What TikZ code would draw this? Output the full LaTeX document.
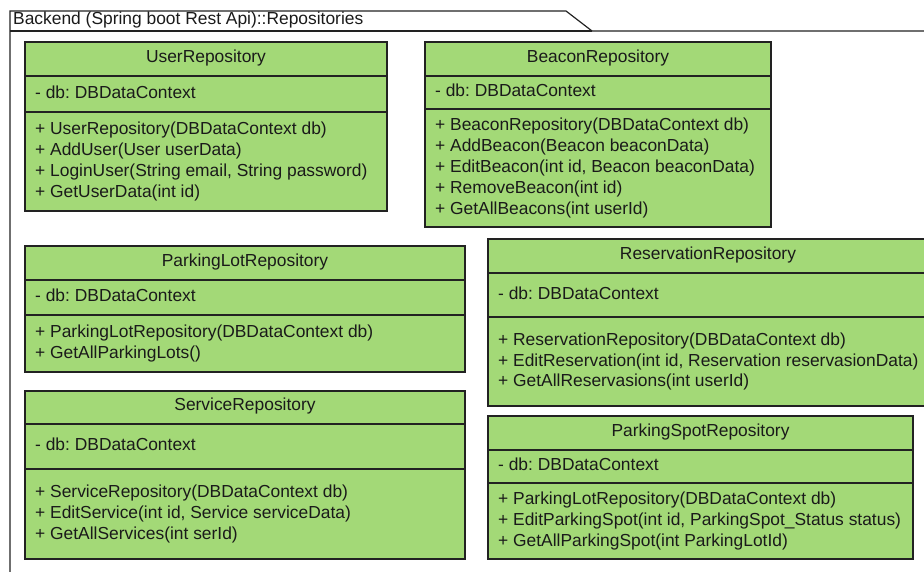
\documentclass[tikz,border=0pt]{standalone}
\usepackage{fontspec}
\setmainfont{Liberation Sans}
\frenchspacing
\newcommand\repfont{\fontsize{17.4}{20.8}\selectfont}
\definecolor{boxg}{HTML}{A3D977}
\definecolor{linec}{HTML}{222222}
\definecolor{textc}{HTML}{1A1A1A}
\tikzset{
  comp/.style={draw=linec, fill=boxg, line width=1.3pt, rectangle,
    anchor=north west, inner sep=0pt, outer sep=0pt},
  lbl/.style={font=\repfont, text=textc, inner sep=0pt, align=left},
  cname/.style={lbl, yshift=1pt},
  field/.style={lbl, anchor=west, yshift=2pt},
  members/.style={lbl, anchor=west},
  frame/.style={draw=linec, line width=1.2pt},
}
\begin{document}
\begin{tikzpicture}[x=1pt,y=-1pt]
\useasboundingbox (0,0) rectangle (924,572);
\clip (0,0) rectangle (924,572);

% package frame with its name tab
\draw[frame] (10,600) -- (10,11) -- (566,11) -- (592,31) -- (940,31);
\draw[frame] (10,31) -- (592,31);
\node[lbl, anchor=west] (pkg) at (13,20)
  {Backend (Spring boot Rest Api)::Repositories};

% UserRepository
\node[comp, minimum width=362pt, minimum height=34pt] (user-n) at (25,42) {};
\node[comp, minimum width=362pt, minimum height=36pt] (user-a) at (user-n.south west) {};
\node[comp, minimum width=362pt, minimum height=99pt] (user-m) at (user-a.south west) {};
\node[cname] (user-t) at (user-n.center) {UserRepository};
\node[field] (user-f) at ([xshift=10pt]user-a.west) {- db: DBDataContext};
\node[members] (user-o) at ([xshift=10pt]user-m.west)
  {+ UserRepository(DBDataContext db)\\+ AddUser(User userData)\\+ LoginUser(String email, String password)\\+ GetUserData(int id)};

% BeaconRepository
\node[comp, minimum width=346pt, minimum height=34pt] (beacon-n) at (425,42) {};
\node[comp, minimum width=346pt, minimum height=33pt] (beacon-a) at (beacon-n.south west) {};
\node[comp, minimum width=346pt, minimum height=118pt] (beacon-m) at (beacon-a.south west) {};
\node[cname] (beacon-t) at (beacon-n.center) {BeaconRepository};
\node[field] (beacon-f) at ([xshift=10pt]beacon-a.west) {- db: DBDataContext};
\node[members] (beacon-o) at ([xshift=10pt]beacon-m.west)
  {+ BeaconRepository(DBDataContext db)\\+ AddBeacon(Beacon beaconData)\\+ EditBeacon(int id, Beacon beaconData)\\+ RemoveBeacon(int id)\\+ GetAllBeacons(int userId)};

% ParkingLotRepository
\node[comp, minimum width=440pt, minimum height=34pt] (lot-n) at (25,246) {};
\node[comp, minimum width=440pt, minimum height=35pt] (lot-a) at (lot-n.south west) {};
\node[comp, minimum width=440pt, minimum height=57pt] (lot-m) at (lot-a.south west) {};
\node[cname] (lot-t) at (lot-n.center) {ParkingLotRepository};
\node[field] (lot-f) at ([xshift=10pt]lot-a.west) {- db: DBDataContext};
\node[members] (lot-o) at ([xshift=10pt]lot-m.west)
  {+ ParkingLotRepository(DBDataContext db)\\+ GetAllParkingLots()};

% ServiceRepository
\node[comp, minimum width=440pt, minimum height=33pt] (svc-n) at (25,391) {};
\node[comp, minimum width=440pt, minimum height=45pt] (svc-a) at (svc-n.south west) {};
\node[comp, minimum width=440pt, minimum height=90pt] (svc-m) at (svc-a.south west) {};
\node[cname] (svc-t) at (svc-n.center) {ServiceRepository};
\node[field] (svc-f) at ([xshift=10pt]svc-a.west) {- db: DBDataContext};
\node[members] (svc-o) at ([xshift=10pt]svc-m.west)
  {+ ServiceRepository(DBDataContext db)\\+ EditService(int id, Service serviceData)\\+ GetAllServices(int serId)};

% ReservationRepository (runs past the right edge)
\node[comp, minimum width=440pt, minimum height=34pt] (res-n) at (488,239) {};
\node[comp, minimum width=440pt, minimum height=44pt] (res-a) at (res-n.south west) {};
\node[comp, minimum width=440pt, minimum height=89pt] (res-m) at (res-a.south west) {};
\node[cname] (res-t) at (res-n.center) {ReservationRepository};
\node[field] (res-f) at ([xshift=10pt]res-a.west) {- db: DBDataContext};
\node[members] (res-o) at ([xshift=10pt]res-m.west)
  {+ ReservationRepository(DBDataContext db)\\+ EditReservation(int id, Reservation reservasionData)\\+ GetAllReservasions(int userId)};

% ParkingSpotRepository
\node[comp, minimum width=425pt, minimum height=34pt] (spot-n) at (488,416) {};
\node[comp, minimum width=425pt, minimum height=33pt] (spot-a) at (spot-n.south west) {};
\node[comp, minimum width=425pt, minimum height=76pt] (spot-m) at (spot-a.south west) {};
\node[cname] (spot-t) at (spot-n.center) {ParkingSpotRepository};
\node[field] (spot-f) at ([xshift=10pt]spot-a.west) {- db: DBDataContext};
\node[members] (spot-o) at ([xshift=10pt]spot-m.west)
  {+ ParkingLotRepository(DBDataContext db)\\+ EditParkingSpot(int id, ParkingSpot\_Status status)\\+ GetAllParkingSpot(int ParkingLotId)};
\end{tikzpicture}
\end{document}
